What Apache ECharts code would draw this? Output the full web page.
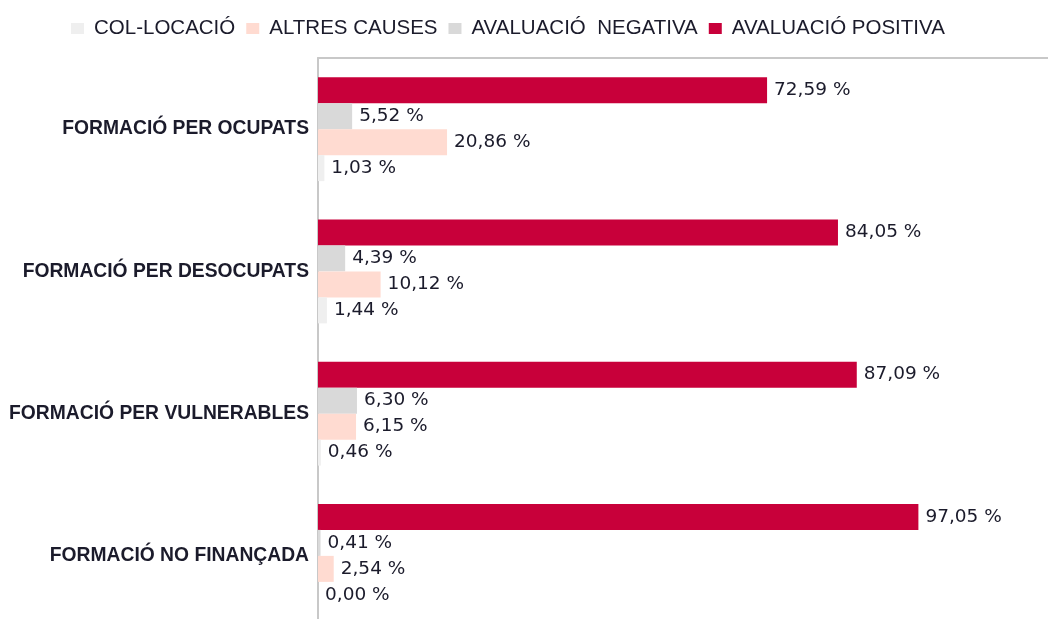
<!DOCTYPE html>
<html>
<head>
<meta charset="utf-8">
<script src="https://cdn.jsdelivr.net/npm/echarts@6/dist/echarts.min.js"></script>
<style>
html,body{margin:0;padding:0;background:#fff;}
#chart{width:1048px;height:619px;}
</style>
</head>
<body>
<div id="chart"></div>
<script>
const categories = ['FORMACIÓ PER OCUPATS', 'FORMACIÓ PER DESOCUPATS', 'FORMACIÓ PER VULNERABLES', 'FORMACIÓ NO FINANÇADA'];
const seriesNames = ['COL-LOCACIÓ', 'ALTRES CAUSES', 'AVALUACIÓ  NEGATIVA', 'AVALUACIÓ POSITIVA'];
const colLocacio = [1.03, 1.44, 0.46, 0.00];
const altresCauses = [20.86, 10.12, 6.15, 2.54];
const avaluacioNegativa = [5.52, 4.39, 6.30, 0.41];
const avaluacioPositiva = [72.59, 84.05, 87.09, 97.05];
const colors = ['#efefef', '#ffdbd1', '#d9d9d9', '#c8003a'];

const values = [colLocacio, altresCauses, avaluacioNegativa, avaluacioPositiva];
const fmt = v => v.toFixed(2).replace('.', ',') + ' %';

// draw order: positive on top of each group (y axis is inverted)
const order = [3, 2, 1, 0];

const chart = echarts.init(document.getElementById('chart'), null, {renderer: 'canvas'});
chart.setOption({
  animation: false,
  legend: {
    left: 66,
    top: 13,
    itemWidth: 13,
    itemHeight: 11,
    itemGap: 11,
    icon: 'rect',
    textStyle: {fontFamily: 'Liberation Sans', fontSize: 20.5, color: '#1b1b2b', padding: [0, 0, 0, 5]},
    data: seriesNames
  },
  grid: {left: 318, right: 0, top: 58, bottom: -8, containLabel: false, outerBoundsMode: 'none'},
  xAxis: {
    type: 'value',
    position: 'top',
    min: 0,
    max: 118,
    axisLine: {show: true, lineStyle: {color: '#c8c8c8', width: 2}},
    axisTick: {show: false},
    axisLabel: {show: false},
    splitLine: {show: false}
  },
  yAxis: {
    type: 'category',
    inverse: true,
    data: categories,
    axisLine: {show: true, lineStyle: {color: '#c8c8c8', width: 2}},
    axisTick: {show: false},
    axisLabel: {margin: 9, fontFamily: 'Liberation Sans', fontWeight: 'bold', fontSize: 19.3, color: '#1b1b2b'}
  },
  series: order.map(i => ({
    name: seriesNames[i],
    type: 'bar',
    data: values[i],
    barWidth: 26,
    barGap: '0%',
    itemStyle: {color: colors[i]},
    label: {
      show: true,
      position: 'right',
      distance: 7,
      formatter: p => fmt(p.value),
      fontFamily: 'DejaVu Sans',
      fontSize: 18.5,
      color: '#1b1b2b'
    }
  }))
});
</script>
</body>
</html>
